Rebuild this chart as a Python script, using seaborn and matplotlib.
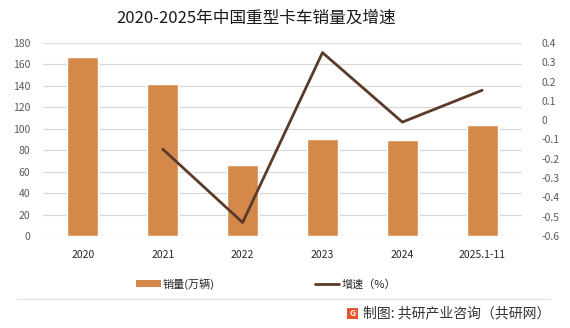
import numpy as np
import pandas as pd
import matplotlib
matplotlib.use("Agg")
import matplotlib.pyplot as plt
from matplotlib.lines import Line2D
from matplotlib.patches import Patch, FancyBboxPatch
import seaborn as sns

# Data
years = ["2020", "2021", "2022", "2023", "2024", "2025.1-11"]
sales = [167.0, 141.5, 66.5, 90.5, 89.5, 103.5]          # 万辆
growth = [np.nan, -0.15, -0.53, 0.35, -0.01, 0.155]      # 增速

title = "2020-2025年中国重型卡车销量及增速"
bar_label = "销量(万辆)"
line_label = "增速（%）"
source = "制图: 共研产业咨询（共研网）"

sns.set_theme(style="white")
plt.rcParams["font.family"] = ["Noto Sans CJK SC", "DejaVu Sans"]
plt.rcParams["axes.unicode_minus"] = False

BAR = "#D4894A"
LINE = "#5B3A29"
GRID = "#D9D9D9"
TXT = "#595959"

fig = plt.figure(figsize=(5.70, 3.28), dpi=100)
ax = fig.add_axes([0.0754, 0.2805, 0.8406, 0.5885])

df = pd.DataFrame({"year": years, "sales": sales, "growth": growth})
df["pos"] = np.arange(len(df))

sns.barplot(data=df, x="year", y="sales", color=BAR, width=0.39,
            saturation=1, ax=ax, zorder=2)
ax.set_xlim(-0.5, len(years) - 0.5)
ax.set_ylim(0, 180)
ax.set_yticks(np.arange(0, 181, 20))
ax.yaxis.grid(True, color=GRID, lw=0.9, zorder=0)
ax.set_axisbelow(True)
for s in ax.spines.values():
    s.set_visible(False)
ax.set_xlabel("")
ax.set_ylabel("")
ax.tick_params(axis="y", length=0, pad=9, labelsize=7.5, labelcolor=TXT)
ax.tick_params(axis="x", length=0, pad=10, labelsize=7.5, labelcolor="#262626")

ax2 = ax.twinx()
line_df = df.dropna(subset=["growth"])
sns.lineplot(data=line_df, x="pos", y="growth", color=LINE, lw=2.0, ax=ax2,
             zorder=3)
ax2.set_xlim(-0.5, len(years) - 0.5)
ax2.set_ylim(-0.6, 0.4)
yt = np.round(np.arange(-0.6, 0.41, 0.1), 1)
ax2.set_yticks(yt)
ax2.set_yticklabels(["0" if v == 0 else f"{v:g}" for v in yt])
for s in ax2.spines.values():
    s.set_visible(False)
ax2.set_xlabel("")
ax2.set_ylabel("")
ax2.tick_params(axis="y", length=0, pad=14, labelsize=7.5, labelcolor=TXT)

fig.text(0.45, 0.945, title, ha="center", va="center", fontsize=12,
         color="#1a1a1a")

handles = [Patch(facecolor=BAR, edgecolor="none"),
           Line2D([0], [0], color=LINE, lw=2.0)]
fig.legend(handles, [bar_label, line_label], loc="center",
           bbox_to_anchor=(0.467, 0.135), ncol=2, frameon=False,
           fontsize=8, columnspacing=9.0, handlelength=2.2,
           handleheight=0.6, handletextpad=0.2)

fig.add_artist(Line2D([0.03, 0.965], [0.088, 0.088], color="#E3E3E3", lw=1.0,
                      transform=fig.transFigure))

fig.add_artist(FancyBboxPatch((0.608, 0.027), 0.02, 0.034,
                              boxstyle="square,pad=0", facecolor="#E8552B",
                              edgecolor="none", transform=fig.transFigure))
fig.text(0.618, 0.044, "G", ha="center", va="center", fontsize=6,
         color="white", fontweight="bold")
fig.text(0.965, 0.044, source, ha="right", va="center", fontsize=10,
         color="#333333")

fig.savefig("out.png", dpi=100)
